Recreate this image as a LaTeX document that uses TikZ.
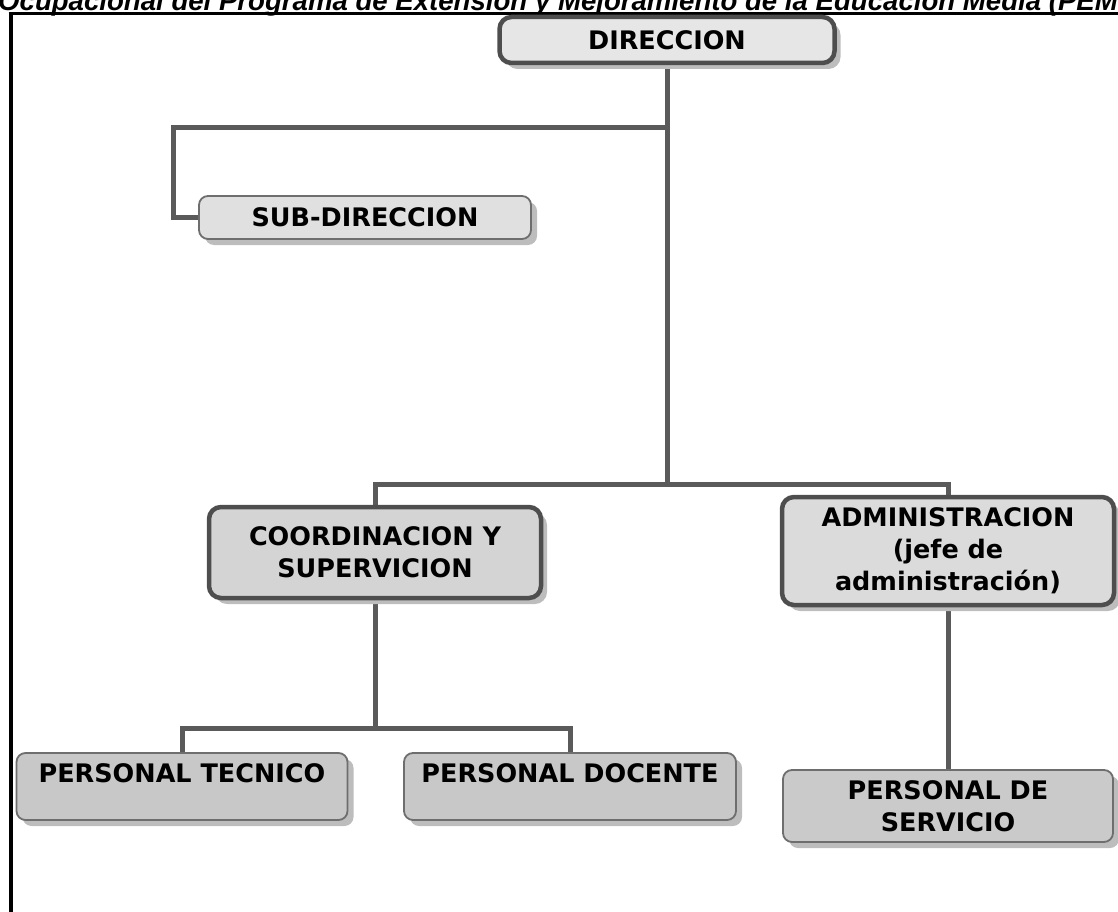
\documentclass[tikz,border=0pt]{standalone}
\usepackage{fontspec}
\setmainfont{DejaVu Sans}
\newfontfamily\titlefont{Liberation Sans}
\usetikzlibrary{shadows,backgrounds}
\definecolor{lnc}{HTML}{5A5A5A}
\definecolor{bdk}{HTML}{4E4E4E}
\definecolor{blt}{HTML}{6E6E6E}
\definecolor{shd}{HTML}{BDBDBD}
\definecolor{fa}{HTML}{E6E6E6}
\definecolor{fb}{HTML}{E0E0E0}
\definecolor{fc}{HTML}{D4D4D4}
\definecolor{fd}{HTML}{C8C8C8}
\tikzset{
  boxbase/.style={rectangle, align=center, inner sep=0pt,
    font=\fontsize{25.5}{32}\selectfont\bfseries, text=black,
    drop shadow={shadow xshift=6pt, shadow yshift=-6pt, fill=shd, opacity=1}},
  heavybox/.style={boxbase, draw=bdk, line width=4.5pt, rounded corners=12pt},
  lightbox/.style={boxbase, draw=blt, line width=1.8pt, rounded corners=9pt},
  toptext/.style={text height=29pt, text depth=38pt},
  conn/.style={draw=lnc, line width=5pt}
}
\begin{document}
\begin{tikzpicture}[x=1pt,y=-1pt]
\useasboundingbox (0,0) rectangle (1118,912);
% title (clipped at top and right, as in the original)
\node[anchor=base west, inner sep=0pt, font=\titlefont\bfseries\itshape\fontsize{27.6}{30}\selectfont] (title) at (-2,11)
  {Ocupacional del Programa de Extensión y Mejoramiento de la Educación Media (PEMEM)};
% frame
\draw[line width=4pt] (10.5,912) -- (10.5,13.5);
\draw[line width=3pt] (8.5,13.5) -- (1118,13.5);
% nodes
\node[heavybox, fill=fa, minimum width=335pt, minimum height=46pt] (dir) at (667,40) {DIRECCION};
\node[lightbox, fill=fb, minimum width=332pt, minimum height=43pt] (sub) at (365,217.5) {SUB-DIRECCION};
\node[heavybox, fill=fc, minimum width=332pt, minimum height=91pt] (coord) at (375,552.5) {COORDINACION Y\\SUPERVICION};
\node[heavybox, fill=fc!60!fa, minimum width=332pt, minimum height=108pt] (adm) at (948,551) {ADMINISTRACION\\(jefe de\\administración)};
\node[lightbox, fill=fd, minimum width=331pt, toptext] (pt) at (182,786.5) {PERSONAL TECNICO};
\node[lightbox, fill=fd, minimum width=332pt, toptext] (pd) at (570,786.5) {PERSONAL DOCENTE};
\node[lightbox, fill=fd!85!fc, minimum width=330pt, minimum height=72pt] (ps) at (948,806) {PERSONAL DE\\SERVICIO};
% connectors
\coordinate (b1) at (dir.south |- 0,128);
\coordinate (b2) at (173,128);
\coordinate (h1) at (dir.south |- 0,484);
\coordinate (hl) at (coord.north |- 0,484);
\coordinate (hr) at (adm.north |- 0,484);
\coordinate (c1) at (coord.south |- 0,728);
\begin{scope}[on background layer]
\draw[conn] (dir.south) -- (h1);
\draw[conn] (b1) -- (b2) |- (sub.west);
\draw[conn] (coord.north) -- (hl) -- (hr) -- (adm.north);
\draw[conn] (coord.south) -- (c1);
\draw[conn] (pt.north) |- (c1) -| (pd.north);
\draw[conn] (adm.south) -- (ps.north);
\end{scope}
\end{tikzpicture}
\end{document}
